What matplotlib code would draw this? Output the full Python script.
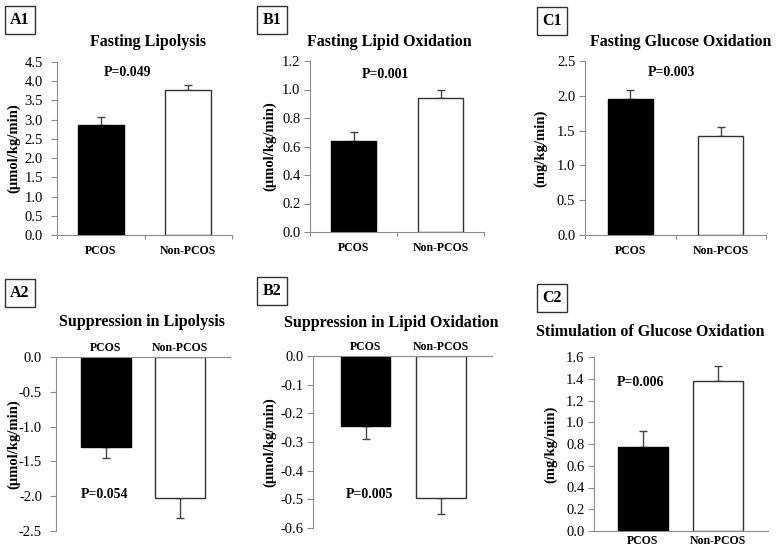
import matplotlib.pyplot as plt
import numpy as np

plt.rcParams['font.family'] = ['Liberation Serif', 'DejaVu Serif']

W, H = 778, 547

groups = ["PCOS", "Non-PCOS"]

a1_mean = [2.85, 3.78]
a1_err = [0.23, 0.12]
b1_mean = [0.64, 0.94]
b1_err = [0.06, 0.06]
c1_mean = [1.96, 1.42]
c1_err = [0.13, 0.13]
a2_mean = [-1.30, -2.03]
a2_err = [0.15, 0.29]
b2_mean = [-0.245, -0.495]
b2_err = [0.045, 0.055]
c2_mean = [0.77, 1.38]
c2_err = [0.15, 0.14]

GRAY = '#8c8c8c'

fig = plt.figure(figsize=(W / 100, H / 100), dpi=100)


def px_axes(x0, y0, x1, y1):
    # pixel box (top-left origin) -> figure axes
    return fig.add_axes([x0 / W, 1 - y1 / H, (x1 - x0) / W, (y1 - y0) / H])


def fmt1(v):
    if abs(v) < 1e-9:
        v = 0.0
    return '{:.1f}'.format(v)


def panel(rect, means, errs, ylim, yticks, ylabel, xlim, width,
          top_axis=False, ypad=3, xpad=7, label_x=15):
    ax = px_axes(*rect)
    x = np.arange(len(means))
    ax.bar(x, means, width=width, color=['black', 'white'],
           edgecolor=['black', '#333333'], linewidth=1.0, zorder=2)
    if top_axis:
        yerr = [errs, [0, 0]]
    else:
        yerr = [[0, 0], errs]
    ax.errorbar(x, means, yerr=yerr, fmt='none', ecolor='#444444',
                elinewidth=1.0, capsize=3, capthick=1.0, zorder=1)
    ax.set_xlim(*xlim)
    ax.set_ylim(*ylim)
    ax.set_yticks(yticks)
    ax.set_yticklabels([fmt1(v) for v in yticks], fontsize=10.5)
    for s in ['top', 'right', 'bottom', 'left']:
        ax.spines[s].set_visible(False)
    ax.spines['left'].set_visible(True)
    ax.spines['left'].set_color(GRAY)
    ax.tick_params(axis='y', color=GRAY, length=4, width=0.8, pad=ypad)
    if top_axis:
        ax.spines['top'].set_visible(True)
        ax.spines['top'].set_color(GRAY)
        ax.xaxis.tick_top()
    else:
        ax.spines['bottom'].set_visible(True)
        ax.spines['bottom'].set_color(GRAY)
    ax.set_xticks(x)
    ax.set_xticklabels(groups, fontsize=8.5, fontweight='bold')
    ax.tick_params(axis='x', length=0, pad=xpad)
    if not top_axis and xlim[0] == -0.5:
        ax.set_xticks([-0.5, 0.5, 1.5], minor=True)
        ax.tick_params(axis='x', which='minor', length=3, color=GRAY, width=0.8)
    ax.set_ylabel(ylabel, fontsize=10.5, fontweight='bold')
    bb = ax.get_position()
    ax.yaxis.set_label_coords(((label_x + 6) / W - bb.x0) / bb.width, 0.5)
    ax.set_facecolor('none')
    return ax


panel((57, 62, 232, 235), a1_mean, a1_err, (0, 4.5), np.arange(0, 4.51, 0.5),
      '(µmol/kg/min)', (-0.5, 1.5), 0.53, ypad=6, label_x=14)
panel((310, 61, 484, 232), b1_mean, b1_err, (0, 1.2), np.arange(0, 1.21, 0.2),
      '(µmol/kg/min)', (-0.5, 1.5), 0.52, ypad=3, label_x=270)
panel((585, 61, 766, 235), c1_mean, c1_err, (0, 2.5), np.arange(0, 2.51, 0.5),
      '(mg/kg/min)', (-0.5, 1.5), 0.5, ypad=3, label_x=541)
panel((56, 357, 230, 531), a2_mean, a2_err, (-2.5, 0), np.arange(-2.5, 0.01, 0.5),
      '(µmol/kg/min)', (-0.67, 1.67), 0.67, top_axis=True, ypad=6, xpad=2,
      label_x=14)
panel((313, 356, 492, 528), b2_mean, b2_err, (-0.6, 0), np.arange(-0.6, 0.001, 0.1),
      '(µmol/kg/min)', (-0.7, 1.68), 0.66, top_axis=True, ypad=3, xpad=2,
      label_x=270)
panel((594, 357, 768, 531), c2_mean, c2_err, (0, 1.6), np.arange(0, 1.61, 0.2),
      '(mg/kg/min)', (-0.65, 1.67), 0.66, ypad=3, xpad=3, label_x=551)

titles = [
    ("Fasting Lipolysis", 148, 42),
    ("Fasting Lipid Oxidation", 389, 42),
    ("Fasting Glucose Oxidation", 681, 42),
    ("Suppression in Lipolysis", 142, 322),
    ("Suppression in Lipid Oxidation", 391, 323),
    ("Stimulation of Glucose Oxidation", 650, 332),
]
for t, xc, yc in titles:
    fig.text(xc / W, 1 - yc / H, t, ha='center', va='center',
             fontsize=11.5, fontweight='bold')

pvals = [
    ("P=0.049", 128, 73),
    ("P=0.001", 385, 75),
    ("P=0.003", 671, 73),
    ("P=0.054", 105, 495),
    ("P=0.005", 369, 495),
    ("P=0.006", 640, 383),
]
for t, xc, yc in pvals:
    fig.text(xc / W, 1 - yc / H, t, ha='center', va='center',
             fontsize=10, fontweight='bold')

boxes = [
    ("A1", 20, 20),
    ("B1", 272, 20),
    ("C1", 552, 21),
    ("A2", 20, 293),
    ("B2", 272, 291),
    ("C2", 552, 298),
]
for t, xc, yc in boxes:
    fig.text(xc / W, 1 - yc / H, t, ha='center', va='center',
             fontsize=11.5, fontweight='bold',
             bbox=dict(boxstyle='square,pad=0.35', fc='white', ec='#333333', lw=1))

fig.savefig('out.png', dpi=100, facecolor='white')
